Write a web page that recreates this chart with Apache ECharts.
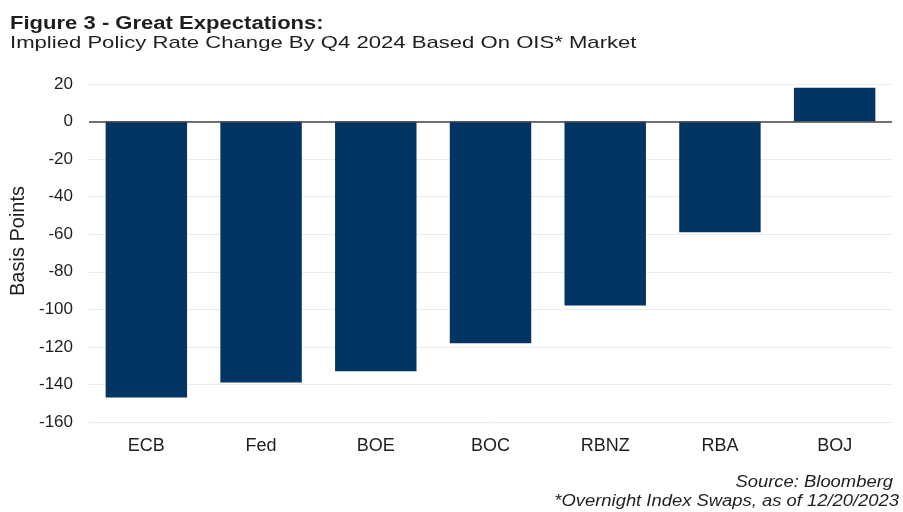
<!DOCTYPE html>
<html>
<head>
<meta charset="utf-8">
<script src="https://cdn.jsdelivr.net/npm/echarts@6/dist/echarts.min.js"></script>
<style>html,body{margin:0;padding:0;background:#fff;}#main{width:903px;height:512px;}</style>
</head>
<body>
<div id="main"></div>
<script>
const categories = ['ECB', 'Fed', 'BOE', 'BOC', 'RBNZ', 'RBA', 'BOJ'];
const values = [-147, -139, -133, -118, -98, -59, 18];
const yTicks = {min: -160, max: 20, interval: 20};
const titleText = 'Figure 3 - Great Expectations:';
const subtitleText = 'Implied Policy Rate Change By Q4 2024 Based On OIS* Market';
const sourceText = 'Source: Bloomberg';
const noteText = '*Overnight Index Swaps, as of 12/20/2023';

const chart = echarts.init(document.getElementById('main'));
const font = 'Liberation Sans, Arial, sans-serif';
const ink = '#1e1e1e';
chart.setOption({
  animation: false,
  backgroundColor: '#ffffff',
  graphic: [
    {type: 'text', x: 10, y: 24.5, scaleX: 1.26,
     style: {text: titleText, font: 'bold 17.5px ' + font, fill: ink, textAlign: 'left', textVerticalAlign: 'middle'}},
    {type: 'text', x: 10, y: 43, scaleX: 1.3,
     style: {text: subtitleText, font: '17px ' + font, fill: ink, textAlign: 'left', textVerticalAlign: 'middle'}},
    {type: 'text', x: 893, y: 483, scaleX: 1.15,
     style: {text: sourceText, font: 'italic 16px ' + font, fill: ink, textAlign: 'right', textVerticalAlign: 'middle'}},
    {type: 'text', x: 899, y: 502, scaleX: 1.15,
     style: {text: noteText, font: 'italic 16px ' + font, fill: ink, textAlign: 'right', textVerticalAlign: 'middle'}}
  ],
  grid: {left: 89, right: 11, top: 84, bottom: 90, containLabel: false},
  xAxis: {
    type: 'category', data: categories,
    axisLine: {show: false}, axisTick: {show: false},
    axisLabel: {fontFamily: font, fontSize: 18, color: ink, margin: 15, interval: 0}
  },
  yAxis: {
    type: 'value', min: yTicks.min, max: yTicks.max, interval: yTicks.interval,
    name: 'Basis Points', nameLocation: 'middle', nameGap: 61, nameRotate: 90,
    nameTextStyle: {fontFamily: font, fontSize: 20, color: ink, padding: [0, 0, 0, 24]},
    axisLine: {show: false}, axisTick: {show: false},
    axisLabel: {fontFamily: font, fontSize: 17, color: ink, margin: 16},
    splitLine: {lineStyle: {color: '#ececec', width: 1}}
  },
  series: [{
    type: 'bar', data: values, barCategoryGap: '29%',
    itemStyle: {color: '#033564'},
    markLine: {
      silent: true, symbol: 'none', label: {show: false},
      lineStyle: {color: '#444', type: 'solid', width: 1.5},
      data: [{yAxis: 0}]
    },
    z: 2
  }]
});
</script>
</body>
</html>
